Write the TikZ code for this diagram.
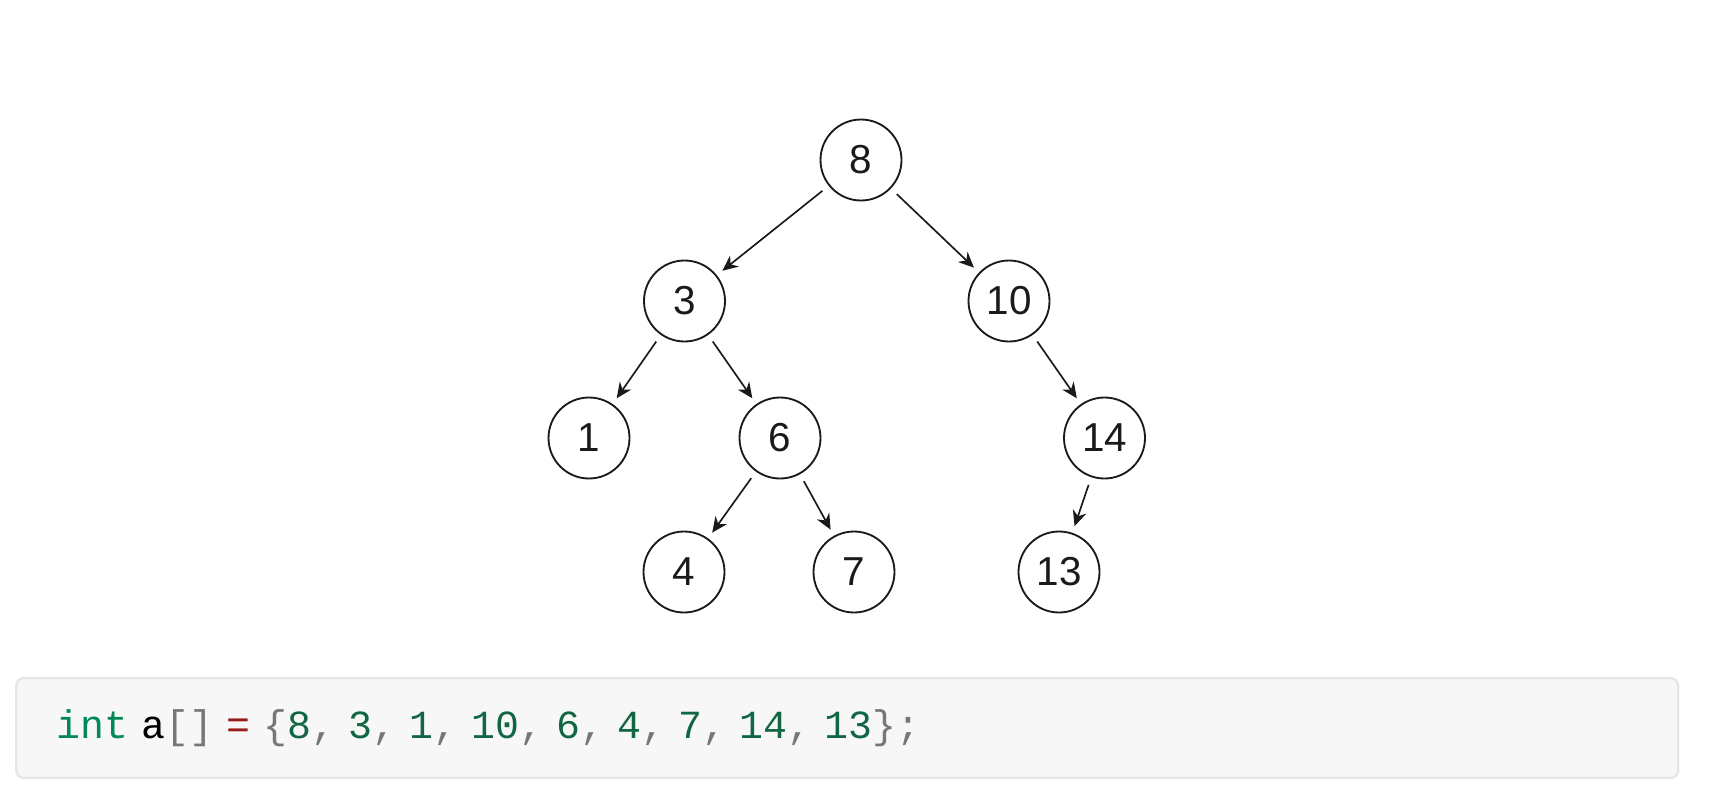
\documentclass[tikz,border=0pt]{standalone}
\usepackage{fontspec}
\usepackage{xcolor}
\usetikzlibrary{arrows.meta,positioning}
\setmainfont{Liberation Sans}
\setmonofont{Liberation Mono}
\definecolor{ink}{HTML}{1A1A1A}
\definecolor{codebg}{HTML}{F7F7F7}
\definecolor{codeline}{HTML}{E4E7EA}
\definecolor{kwtype}{HTML}{008855}
\definecolor{numgreen}{HTML}{116644}
\definecolor{punct}{HTML}{777777}
\definecolor{opred}{HTML}{981A1A}
\tikzset{
  key/.style={circle,draw=ink,line width=1.05pt,fill=white,minimum size=1.62cm,inner sep=0pt,font=\fontsize{23}{26}\selectfont,text=ink},
  child/.style={-{Stealth[length=3.1mm,width=2.8mm]},line width=0.95pt,draw=ink,shorten <=0.16cm,shorten >=0.14cm},
  codebox/.style={draw=codeline,fill=codebg,line width=1.4pt,rounded corners=0.16cm,minimum height=2cm,inner xsep=0.8cm,text width=31.64cm,align=left,font=\fontsize{22.7}{26}\selectfont\ttfamily}
}
\newcommand{\pu}[1]{\textcolor{punct}{#1}}
\newcommand{\nm}[1]{\textcolor{numgreen}{#1}}

\begin{document}
\begin{tikzpicture}[node distance=2.8cm,on grid]
    \useasboundingbox (0,0) rectangle (34.46,-15.84);

    % the search tree
    \node[key] (n8) at (17.22,-3.20) {8};
    \node[key,below left=2.82cm and 3.53cm of n8] (n3) {3};
    \node[key,below right=2.82cm and 2.96cm of n8] (n10) {10};
    \node[key,below left=2.74cm and 1.91cm of n3] (n1) {1};
    \node[key,below right=2.74cm and 1.91cm of n3] (n6) {6};
    \node[key,below right=2.74cm and 1.91cm of n10] (n14) {14};
    \node[key,below left=2.68cm and 1.92cm of n6] (n4) {4};
    \node[key,below right=2.68cm and 1.48cm of n6] (n7) {7};
    \node[key,below left=2.68cm and 0.91cm of n14] (n13) {13};

    \draw[child] (n8) -- (n3);
    \draw[child] (n8) -- (n10);
    \draw[child] (n3) -- (n1);
    \draw[child] (n3) -- (n6);
    \draw[child] (n10) -- (n14);
    \draw[child] (n6) -- (n4);
    \draw[child] (n6) -- (n7);
    \draw[child] (n14) -- (n13);

    % insertion order
    \node[codebox,anchor=west] (code) at (0.30,-14.56) {\textcolor{kwtype}{int} \textcolor{black}{a}\pu{[]} \textcolor{opred}{=} \pu{\{}\nm{8}\pu{,} \nm{3}\pu{,} \nm{1}\pu{,} \nm{10}\pu{,} \nm{6}\pu{,} \nm{4}\pu{,} \nm{7}\pu{,} \nm{14}\pu{,} \nm{13}\pu{\};}};
  \end{tikzpicture}
\end{document}
